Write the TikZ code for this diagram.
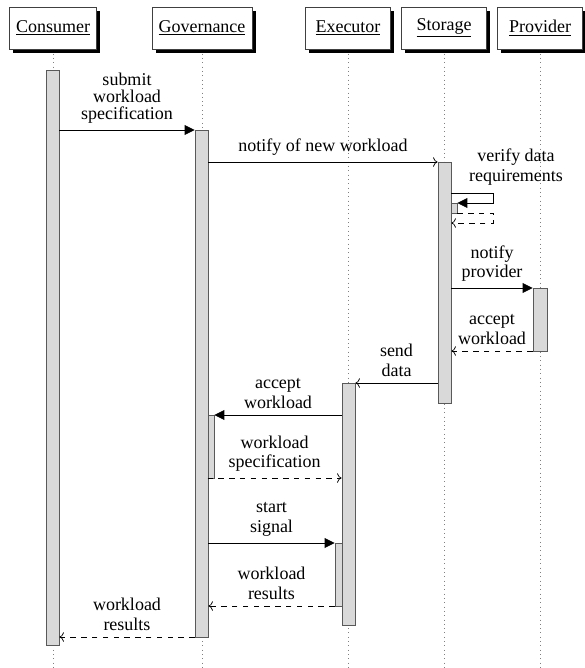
\documentclass[tikz,border=0pt]{standalone}
\usepackage{fontspec}
\setmainfont{Liberation Serif}
\usetikzlibrary{arrows.meta,fit,shadows,backgrounds}

\begin{document}
\begin{tikzpicture}[x=0.5556pt,y=-0.5556pt,
  head/.style={draw=black!75,fill=white,minimum width=47.2pt,minimum height=23.3pt,inner sep=3.6pt,
    drop shadow={shadow xshift=2.2pt,shadow yshift=-2.2pt,fill=black,opacity=1}},
  life/.style={dotted,gray},
  bar/.style={draw=black!65,fill=gray!30,inner sep=0pt,line width=0.5pt},
  msg/.style={align=center,font=\fontsize{10}{11}\selectfont},
  call/.style={-{Triangle[length=5.5pt,width=5.5pt]}},
  mess/.style={->},
  ret/.style={->,dashed}]
\useasboundingbox (0,0) rectangle (585,668);
\node[head] (cons) at (53,28) {\underline{Consumer}};
\node[head] (gov) at (202,28) {\underline{Governance}};
\node[head] (exec) at (348,28) {\underline{Executor}};
\node[head] (stor) at (444,28) {\underline{Storage}};
\node[head] (prov) at (540,28) {\underline{Provider}};
\begin{scope}[on background layer]
\foreach \n in {cons,gov,exec,stor,prov}
  \draw[life] (\n) -- (\n |- 0,668);
\end{scope}
% activations
\node[bar,fit={(46,70) (59,645)}] (consbar) {};
\node[bar,fit={(195,130) (208,637)}] (govbar) {};
\node[bar,fit={(438,162) (451,403)}] (storbar) {};
\node[bar,fit={(451,203) (457,213)}] (storsub) {};
\node[bar,fit={(533,288) (547,351)}] (provbar) {};
\node[bar,fit={(342,383) (355,625)}] (execbar) {};
\node[bar,fit={(208,415) (214,478)}] (govsub) {};
\node[bar,fit={(335,543) (342,606)}] (execsub) {};
% messages
\draw[call] (consbar.east |- 0,130) -- node[msg,above] (l1) {submit\\[-1.6pt]workload\\[-1.6pt]specification} (govbar.west |- 0,130);
\draw[mess] (govbar.east |- 0,162) -- node[msg,above] (l2) {notify\ of\ new\ workload} (storbar.west |- 0,162);
\draw[call] (storbar.east |- 0,193) -- ++(42,0) -- ++(0,10) -- (storsub.east |- 0,203);
\draw[ret] (storsub.east |- 0,213) -- ++(36,0) -- ++(0,10) -- (storbar.east |- 0,223);
\node[msg] (l3) at (516,167) {verify data\\requirements};
\draw[call] (storbar.east |- 0,288) -- node[msg,above] (l4) {notify\\provider} (provbar.west |- 0,288);
\draw[ret] (provbar.west |- 0,351) -- node[msg,above] (l5) {accept\\workload} (storbar.east |- 0,351);
\draw[mess] (storbar.west |- 0,383) -- node[msg,above] (l6) {send\\data} (execbar.east |- 0,383);
\draw[call] (execbar.west |- 0,415) -- node[msg,above] (l7) {accept\\workload} (govsub.east |- 0,415);
\draw[ret] (govsub.west |- 0,478) -- node[msg,above] (l8) {workload\\specification} (execbar.west |- 0,478);
\draw[call] (govbar.east |- 0,543) -- node[msg,above] (l9) {start\\signal} (execsub.west |- 0,543);
\draw[ret] (execsub.west |- 0,606) -- node[msg,above] (l10) {workload\\results} (govbar.east |- 0,606);
\draw[ret] (govbar.west |- 0,637) -- node[msg,above] (l11) {workload\\results} (consbar.east |- 0,637);
\end{tikzpicture}
\end{document}
